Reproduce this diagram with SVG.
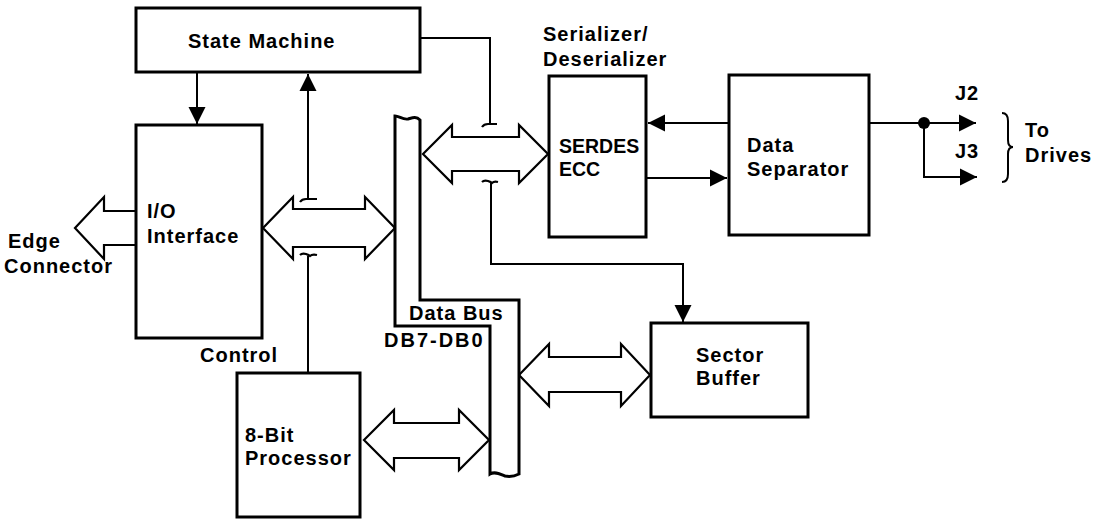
<svg xmlns="http://www.w3.org/2000/svg" width="1098" height="520" viewBox="0 0 1098 520">
<style>
.box{fill:#fff;stroke:#000;stroke-width:3}
.ln{fill:none;stroke:#000;stroke-width:2}
.dbl{fill:#fff;stroke:#000;stroke-width:2.2;stroke-linejoin:miter}
.bus{fill:#fff;stroke:#000;stroke-width:3;stroke-linejoin:miter}
.tk{fill:none;stroke:#000;stroke-width:2.2}
text{font-family:"Liberation Sans",Arial,sans-serif;font-weight:bold;font-size:20px;letter-spacing:1px;fill:#000}
.tight{letter-spacing:0px;font-size:19.5px}
</style>
<defs>
<marker id="ah" viewBox="0 0 10 10" refX="10" refY="5" markerWidth="17" markerHeight="19" markerUnits="userSpaceOnUse" orient="auto">
<path d="M0,0 L10,5 L0,10 Z" fill="#000"/>
</marker>
</defs>
<rect width="1098" height="520" fill="#fff"/>

<g id="connectors">
<path class="ln" d="M197,72 V124" marker-end="url(#ah)"/>
<path class="ln" d="M308,200 V74" marker-end="url(#ah)"/>
<path class="ln" d="M420,38 H490 V125"/>
<path class="ln" d="M491,182 V264 H683 V322" marker-end="url(#ah)"/>
<path class="ln" d="M308,372 V256"/>
<path class="ln" d="M729,123 H648" marker-end="url(#ah)"/>
<path class="ln" d="M647,178 H727" marker-end="url(#ah)"/>
<path class="ln" d="M869,123 H976" marker-end="url(#ah)"/>
<path class="ln" d="M924,123 V177 H977" marker-end="url(#ah)"/>
<circle cx="924" cy="123" r="6" fill="#000"/>
<path class="tk" d="M300,202 q2,-3 6,-3 h11"/>
<path class="tk" d="M300,255 q2,-2 6,-1 q3,1 4,2 q2,-2 7,-1"/>
<path class="tk" d="M482,127 q2,-3 6,-3 h9"/>
<path class="tk" d="M482,182 q2,-2 6,-1 q3,1 4,2 q2,-2 6,-1"/>
<path class="dbl" d="M136,211 H104 V197 L75,228 L104,259 V245 H136"/>
<path class="dbl" d="M263,228 L293,197 V209 H365 V197 L395,228 L365,259 V247 H293 V259 Z"/>
<path class="dbl" d="M423,154 L452,125 V137 H519 V125 L548,154 L519,183 V171 H452 V183 Z"/>
<path class="dbl" d="M364,440 L394,410 V423 H459 V410 L489,440 L459,470 V458 H394 V470 Z"/>
<path class="dbl" d="M519,375 L549,344 V357 H621 V344 L650,375 L621,406 V392 H549 V406 Z"/>
<path class="ln" d="M1002,113 q6,0 6,8 v19 q0,7 5,7 q-5,0 -5,7 v20 q0,8 -6,8" stroke-width="1.6"/>
</g>

<g id="data-bus">
<path class="bus" d="M395,116 V326 H490 V474 c5,-3 10,0 15,2 c5,1 10,0 14,-2 V300 H420 V120 c-4,-4 -8,-2 -12,-1 c-5,1 -9,-3 -13,-3 Z"/>
<text x="409" y="320">Data Bus</text>
<text x="384" y="347" style="letter-spacing:2px">DB7-DB0</text>
</g>

<g id="state-machine">
<rect class="box" x="136" y="8" width="284" height="64"/>
<text x="188" y="48">State Machine</text>
</g>

<g id="io-interface">
<rect class="box" x="136" y="125" width="126" height="213"/>
<text x="147" y="218">I/O</text>
<text x="147" y="243">Interface</text>
</g>

<g id="edge-connector">
<text x="8" y="248">Edge</text>
<text x="4" y="273">Connector</text>
</g>

<g id="control-label">
<text x="200" y="362">Control</text>
</g>

<g id="processor">
<rect class="box" x="237" y="373" width="123" height="144"/>
<text x="245" y="442">8-Bit</text>
<text x="245" y="465">Processor</text>
</g>

<g id="serdes">
<text x="543" y="41">Serializer/</text>
<text x="543" y="66">Deserializer</text>
<rect class="box" x="549" y="76" width="97" height="161"/>
<text class="tight" x="559" y="153">SERDES</text>
<text class="tight" x="559" y="176">ECC</text>
</g>

<g id="data-separator">
<rect class="box" x="729" y="75" width="140" height="160"/>
<text x="747" y="152">Data</text>
<text x="747" y="176">Separator</text>
</g>

<g id="sector-buffer">
<rect class="box" x="651" y="323" width="157" height="94"/>
<text x="696" y="362">Sector</text>
<text x="696" y="385">Buffer</text>
</g>

<g id="drives">
<text x="955" y="100">J2</text>
<text x="955" y="158">J3</text>
<text x="1025" y="137">To</text>
<text x="1025" y="162">Drives</text>
</g>
</svg>
